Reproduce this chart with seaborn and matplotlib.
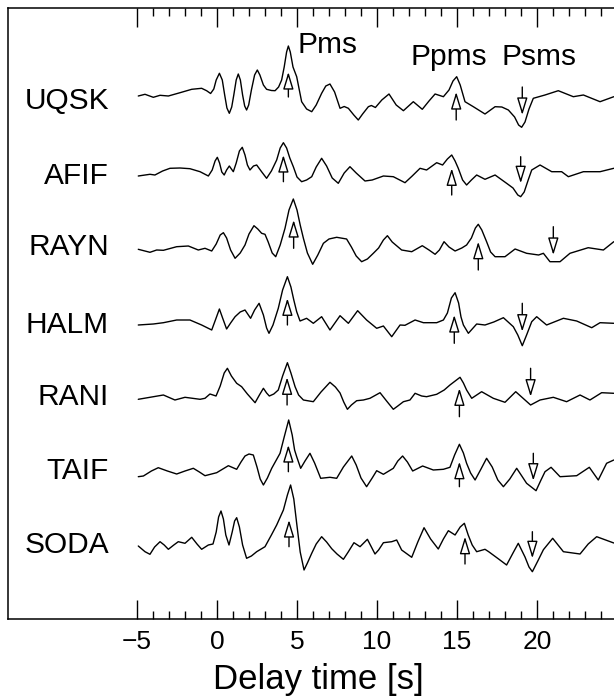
import matplotlib
matplotlib.use("Agg")
import matplotlib.pyplot as plt
import numpy as np
import pandas as pd
import seaborn as sns

# ---------------- data: (delay time [s], amplitude) ----------------
STATIONS = ["UQSK", "AFIF", "RAYN", "HALM", "RANI", "TAIF", "SODA"]

UQSK_pts = [(-4.92, -1), (-4.5, 0.7), (-3.98, -2.3), (-3.56, -0.3), (-3.04, -1), (-2.31, 2.3),
            (-1.58, 5.7), (-0.96, 6.7), (-0.65, 4.3), (-0.4, 1.5), (-0.2, 6), (-0.05, 15), (0.15, 21.7),
            (0.33, 15), (0.48, 0), (0.62, -13), (0.77, -18.3), (0.92, -12), (1.05, 0), (1.2, 15),
            (1.33, 21), (1.46, 15), (1.6, 0), (1.73, -11), (1.85, -15), (1.98, -10), (2.15, 5),
            (2.35, 20), (2.52, 25), (2.68, 20), (2.9, 10), (3.1, 5.7), (3.4, 4.5), (3.63, 4.3),
            (3.85, 8), (4.04, 15), (4.2, 28), (4.35, 43), (4.46, 49), (4.58, 43), (4.75, 28),
            (4.98, 18.3), (5.29, -6.7), (5.6, -14), (5.92, -16.7), (6.2, -10), (6.54, 1.7),
            (6.8, 9), (7.06, 11), (7.35, 3), (7.69, -13.3), (7.95, -11.5), (8.21, -13.3), (8.55, -20),
            (8.83, -25), (9.1, -19), (9.46, -11.7), (9.65, -10.5), (9.9, -12.5), (10.3, -5),
            (10.75, 1), (11.2, -10), (11.65, -15.7), (12.27, -6.7), (12.83, -14.3), (13.25, -6),
            (13.63, 1), (14.15, -1.7), (14.5, 5), (14.75, 14), (14.98, 18.3), (15.2, 10), (15.5, -6.7),
            (16.02, -11.7), (16.75, -19), (17.38, -11.7), (17.8, -12), (18.21, -15), (18.6, -22),
            (18.85, -30), (19.04, -32.3), (19.25, -27), (19.5, -14), (19.77, -3.3), (20.5, 0),
            (21.33, 4.3), (22.27, -1.7), (22.9, 0), (23.94, -6.7), (24.8, -1.7)]

AFIF_pts = [(-4.92, -1), (-4.19, 0.7), (-3.88, 0), (-3.4, 4), (-2.94, 6.7), (-2.31, 7), (-1.69, 6.3),
            (-1.06, 3.3), (-0.54, -1), (-0.3, 5), (-0.12, 14), (0.02, 17.7), (0.16, 12), (0.3, 3),
            (0.45, 0), (0.6, 5), (0.77, 9), (0.9, 6), (1.02, 3.3), (1.2, 12), (1.4, 24), (1.58, 27.7),
            (1.75, 20), (1.9, 10), (2.06, 5), (2.28, 9), (2.48, 10), (2.8, 3), (3.1, -3.3), (3.4, 4),
            (3.73, 15), (3.95, 27), (4.15, 32.3), (4.35, 27), (4.55, 17), (4.77, 8.3), (5.0, -2),
            (5.29, -6.7), (5.6, -5), (5.92, -1.7), (6.2, 8), (6.54, 16.7), (6.85, 9), (7.2, -3),
            (7.58, -8.3), (7.95, 2), (8.31, 8.3), (8.7, 2), (9.25, -6), (9.7, -5), (10.4, -1),
            (11.02, -1.7), (11.75, -7.7), (12.2, -1), (12.69, 6.7), (13.1, 5), (13.73, 12.3),
            (14.1, 10), (14.4, 16), (14.67, 20), (14.88, 14), (15.08, 6.7), (15.35, -5), (15.6, -10),
            (15.9, -5), (16.23, 0), (16.75, -4.3), (17.38, 0), (18.1, -8.3), (18.5, -13), (18.8, -20),
            (18.98, -21.7), (19.2, -17), (19.45, -5), (19.67, 5), (20.19, 10), (20.92, 3.3),
            (21.54, 3.3), (21.96, -1.7), (22.9, 3.3), (23.94, 3.3), (24.8, 6.7)]

RAYN_pts = [(-4.92, 0.7), (-4.19, -2.3), (-3.77, 0), (-3.35, -0.3), (-2.52, 3.3), (-1.79, 4),
            (-1.17, 0), (-0.75, 1.7), (-0.33, -1), (-0.05, 6), (0.2, 15), (0.4, 17.3), (0.6, 12),
            (0.85, 0), (1.13, -8.3), (1.45, -3), (1.75, 5), (2.0, 16), (2.31, 24.3), (2.55, 21),
            (2.79, 16.7), (3.0, 15.7), (3.2, 8), (3.45, -3), (3.67, -6.7), (3.95, 5), (4.25, 21.7),
            (4.5, 40), (4.77, 51), (5.0, 40), (5.2, 25), (5.4, 11.7), (5.65, -3), (5.98, -14.3),
            (6.3, -5), (6.65, 6.7), (7.0, 11), (7.48, 12.7), (8.1, 11), (8.4, 3), (8.7, -6),
            (9.04, -11.7), (9.4, -9), (9.77, -3.3), (10.1, 2), (10.4, 10), (10.65, 14.3), (10.95, 8),
            (11.54, 0), (12.17, -1.7), (12.83, 4.3), (13.25, 0), (13.63, -4.3), (13.9, 0), (14.19, 8.3),
            (14.5, 3), (14.88, -1), (15.3, 2), (15.6, 5), (15.9, 12), (16.15, 22), (16.33, 25.7),
            (16.55, 20), (16.85, 8.3), (17.1, -2), (17.38, -6.7), (18.0, -6.7), (18.63, 1),
            (19.35, -3.3), (20.1, -5), (20.4, -3.3), (20.81, -11.7), (21.44, -11.7), (22.06, -3.3),
            (23.2, 2.3), (24.15, 0), (24.8, 8.3)]

HALM_pts = [(-4.92, 0), (-3.98, 1), (-3.35, 2.3), (-2.52, 5), (-1.69, 5), (-0.96, 0), (-0.33, -5),
            (-0.1, 5), (0.15, 16), (0.35, 7), (0.6, -4), (0.85, 2), (1.13, 8.3), (1.45, 13),
            (1.75, 15), (2.1, 6.7), (2.35, 15), (2.63, 21.7), (2.9, 10), (3.1, -3), (3.25, -8.3),
            (3.5, 0), (3.83, 16.7), (4.1, 35), (4.4, 48.3), (4.62, 38), (4.8, 25), (4.98, 13.3),
            (5.19, 4), (5.6, 6.7), (6.02, 1.7), (6.54, 8.3), (7.06, -5), (7.69, 9.3), (8.21, 1.7),
            (8.79, 14.3), (9.35, 5), (9.98, -3.3), (10.4, -1), (10.92, -11.7), (11.44, 0),
            (11.75, -0.3), (12.38, 5), (12.9, 2.3), (13.73, 2.3), (14.15, 5), (14.4, 12), (14.65, 27),
            (14.88, 32.3), (15.1, 22), (15.25, 8), (15.4, 0), (15.71, -8.3), (16.23, 1), (16.75, 0),
            (17.3, 3), (17.9, 7.3), (18.52, -1.7), (18.8, -10), (19.08, -20.7), (19.35, -10),
            (19.67, 3.3), (19.98, 8.3), (20.6, 0), (21.65, 6.7), (22.48, 4), (23.42, -2.7),
            (23.94, 2.3), (24.8, 1.7)]

RANI_pts = [(-4.92, -1.3), (-4.19, 0.7), (-3.35, 3), (-2.63, -2), (-2.0, 0.7), (-1.06, -1.3),
            (-0.75, -0.3), (-0.44, 4), (-0.06, 2), (0.2, 12), (0.45, 25), (0.65, 29.7), (0.9, 22),
            (1.23, 14.7), (1.54, 11.3), (1.9, 4), (2.38, -4.7), (2.65, 3), (2.9, 9.7), (3.1, 5),
            (3.27, 2), (3.55, 4), (3.83, 8), (4.1, 22), (4.4, 35.3), (4.62, 25), (4.88, 11.3),
            (5.1, 3), (5.4, -2), (6.02, -3.7), (6.5, 6), (7.06, 15.7), (7.4, 11), (7.69, 5),
            (7.92, -4), (8.15, -11.3), (8.4, -7), (8.73, -2.7), (9.15, -2), (9.56, -0.3), (10.19, 5.3),
            (10.6, -3), (11.02, -11.3), (11.3, -8), (11.65, -3.7), (12.06, -2), (12.38, 4.7),
            (12.79, 2), (13.1, 1.3), (13.73, 3.7), (14.2, 8), (14.56, 13), (15.19, 20.7), (15.4, 15),
            (15.6, 8), (15.92, -0.3), (16.54, 6.3), (17.27, -0.3), (18.0, -4.3), (18.67, 6.3),
            (19.25, -2), (19.6, -7), (20.19, -2), (21.02, 0.7), (21.85, -3.7), (22.69, 3),
            (23.31, -2), (24.04, 5.3), (24.8, 4.7)]

TAIF_pts = [(-4.92, -1.7), (-4.6, -1), (-4.1, 4), (-3.67, 7.3), (-3.1, 4), (-2.52, 1), (-2.0, 4),
            (-1.48, 6.7), (-1.1, 3), (-0.75, -0.7), (-0.02, 2.3), (0.71, 9.3), (1.23, 5.7), (1.5, 13),
            (1.75, 19), (2.0, 21), (2.27, 20), (2.5, 8), (2.7, -4), (2.9, -10), (3.15, -3), (3.42, 6.7),
            (3.94, 21.7), (4.2, 38), (4.48, 55), (4.7, 40), (4.85, 25), (4.98, 18.3), (5.23, 6.7),
            (5.5, 14), (5.81, 21.7), (6.1, 12), (6.48, -3.3), (7.06, -2.3), (7.48, -3.3), (7.9, 8),
            (8.42, 19), (8.7, 10), (9.0, -3), (9.35, -11.7), (9.7, -3), (9.98, 4.3), (10.4, 0.7),
            (11.02, 6.7), (11.3, 14), (11.6, 19), (11.9, 13), (12.23, 4), (12.85, 9), (13.52, 5),
            (14.15, 5.7), (14.56, 7.7), (14.85, 20), (15.15, 30.7), (15.4, 22), (15.6, 11.7),
            (15.85, 2), (16.13, -5), (16.5, 6), (16.85, 16.7), (17.2, 8), (17.55, -5), (17.9, -11.7),
            (18.3, -4), (18.73, 6.7), (19.05, -1), (19.35, -8.3), (19.94, -15.7), (20.25, -5),
            (20.5, 3.3), (20.88, 7.7), (21.44, -1.7), (22.48, -0.7), (23.27, 7.7), (23.83, -5),
            (24.35, 11.7), (24.8, 15)]

SODA_pts = [(-4.92, 1), (-4.5, -4.7), (-4.19, -7.3), (-3.9, 0), (-3.56, 5.3), (-3.3, 2), (-3.04, -2.3),
            (-2.7, 2), (-2.42, 5.3), (-2.0, 3.7), (-1.58, 9.7), (-1.25, 3), (-0.96, -2.3), (-0.54, 2),
            (-0.25, 3), (-0.05, 15), (0.1, 30), (0.25, 36), (0.4, 28), (0.55, 12), (0.75, 2),
            (0.95, 15), (1.1, 26), (1.23, 29.3), (1.4, 20), (1.6, 2), (1.85, -11.3), (2.15, -9),
            (2.48, -4.7), (3.0, 0.3), (3.4, 12), (3.73, 22), (4.15, 37), (4.4, 52), (4.6, 62),
            (4.8, 48), (4.98, 23.7), (5.2, -5), (5.44, -23), (5.65, -16), (5.92, -6.3), (6.2, 3),
            (6.54, 10.3), (6.85, 5), (7.17, -1.7), (7.5, -7), (7.9, -12.3), (8.2, -5), (8.56, 4.3),
            (8.94, 0.3), (9.4, 7.7), (9.65, 0), (9.875, -7), (10.1, -3), (10.4, 4.3), (10.92, 5.3),
            (11.23, 7), (11.54, -3), (12.17, -10.3), (12.55, 5), (12.94, 19.3), (13.35, 8),
            (13.83, -2), (14.15, 8), (14.46, 16.3), (14.88, 12), (15.2, 20), (15.46, 23.7),
            (15.7, 12), (15.95, 2), (16.23, -4.7), (16.75, -2.3), (16.98, -4.7), (17.6, -12),
            (18.1, -18), (18.5, -6), (18.83, 3.7), (19.25, -10), (19.5, -20), (19.71, -24.7),
            (20.05, -14), (20.4, -2.7), (20.98, 8.7), (21.65, -4.7), (22.69, -7), (23.2, 3),
            (23.73, 10.3), (24.8, 4)]

# picked arrival times [s]
PMS_T = [4.46, 4.15, 4.79, 4.40, 4.38, 4.46, 4.50]
PPMS_T = [14.95, 14.67, 16.33, 14.83, 15.15, 15.15, 15.50]
PSMS_T = [19.08, 18.98, 21.02, 19.08, 19.60, 19.77, 19.71]

PHASE_NAMES = ["Pms", "Ppms", "Psms"]
TICK_MAJOR = [-5, 0, 5, 10, 15, 20]
TICK_MINOR = list(range(-5, 25))

# ---------------- layout ----------------
BASE = [95, 175, 250, 325, 398, 475, 547]          # trace baselines (vertical pixel units)
LABEL_Y = [101, 176, 247, 325, 397, 471, 545]
PMS_TIP = [23, 20, 30, 26.7, 20.7, 30, 27]          # arrow tip / tail relative to baseline
PMS_TAIL = [-2, -6.7, 1.7, 0, -7, 3.3, 0.3]
PPMS_TIP = [3, 6.7, 8.3, 10, 9.7, 13.3, 10.3]
PPMS_TAIL = [-25, -20, -20, -18.3, -18.7, -11.7, -17]
PSMS_TIP = [-20, -8.3, -5, -6.7, 1.3, -5.7, -11.3]
PSMS_TAIL = [8, 18.3, 23.3, 21.7, 29.7, 21.7, 15.3]

traces = [UQSK_pts, AFIF_pts, RAYN_pts, HALM_pts, RANI_pts, TAIF_pts, SODA_pts]

sns.set_theme(style="white")
plt.rcParams["font.family"] = ["Liberation Sans", "DejaVu Sans"]
plt.rcParams["text.color"] = "black"
plt.rcParams["axes.labelcolor"] = "black"
plt.rcParams["xtick.color"] = "black"
plt.rcParams["axes.unicode_minus"] = True

rows = []
for name, base, pts in zip(STATIONS, BASE, traces):
    for ti, ai in pts:
        rows.append((name, ti, base - ai))
df = pd.DataFrame(rows, columns=["station", "t", "y"])

fig = plt.figure(figsize=(6.14, 6.97), dpi=100)
ax = fig.add_axes([8 / 614, 78 / 697, 606 / 614, 611 / 697])

sns.lineplot(data=df, x="t", y="y", units="station", estimator=None, sort=False,
             color="black", linewidth=1.0, ax=ax, legend=False)
for ln in ax.lines:
    ln.set_solid_joinstyle("round")

ax.set_xlim(-13.0625, 24.8125)
ax.set_ylim(619, 8)

for side in ["left", "top", "bottom"]:
    ax.spines[side].set_visible(True)
    ax.spines[side].set_color("black")
    ax.spines[side].set_linewidth(1.1)
ax.spines["right"].set_visible(False)

ax.set_xticks(TICK_MAJOR)
ax.set_xticks(TICK_MINOR, minor=True)
ax.set_xticklabels([str(v).replace("-", "\u2212") for v in TICK_MAJOR])
ax.tick_params(axis="x", which="both", direction="in", top=True, bottom=True,
               labeltop=False, labelbottom=True, color="black", width=1.0)
ax.tick_params(axis="x", which="major", length=13.5, labelsize=19, pad=8)
ax.tick_params(axis="x", which="minor", length=6)
ax.set_yticks([])
ax.set_ylabel("")
ax.set_xlabel("Delay time [s]", fontsize=25)
ax.xaxis.set_label_coords(0.512, -0.072)

# station names
for name, y in zip(STATIONS, LABEL_Y):
    ax.text(-6.75, y, name, ha="right", va="center", fontsize=21.5)

# phase labels
ax.text(5.0, 53, PHASE_NAMES[0], ha="left", va="baseline", fontsize=21.5)
ax.text(12.1, 65, PHASE_NAMES[1], ha="left", va="baseline", fontsize=21.5)
ax.text(17.8, 65, PHASE_NAMES[2], ha="left", va="baseline", fontsize=21.5)

# arrows
arrow_kw = dict(arrowstyle="-|>,head_length=1.05,head_width=0.32", fc="white", ec="black",
                lw=1.0, shrinkA=0, shrinkB=0, mutation_scale=10)
for times, tips, tails in [(PMS_T, PMS_TIP, PMS_TAIL), (PPMS_T, PPMS_TIP, PPMS_TAIL),
                           (PSMS_T, PSMS_TIP, PSMS_TAIL)]:
    for t, base, tip, tail in zip(times, BASE, tips, tails):
        ax.annotate("", xy=(t, base - tip), xytext=(t, base - tail),
                    arrowprops=arrow_kw, zorder=5)

fig.savefig("out.png", dpi=100)
